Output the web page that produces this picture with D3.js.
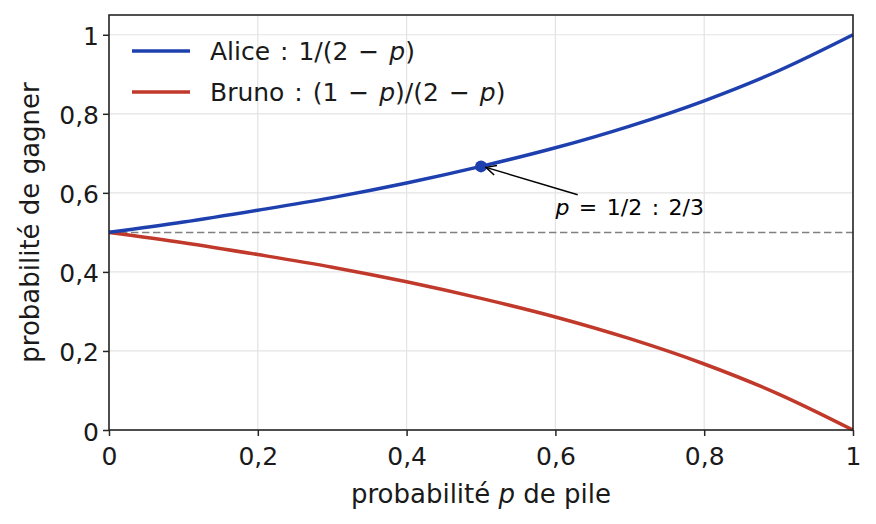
<!DOCTYPE html>
<html lang="fr">
<head>
<meta charset="UTF-8">
<title>Probabilité de gagner</title>
<style>
  body { margin: 0; background: #fff; }
  svg { display: block; font-family: "DejaVu Sans", sans-serif; }
</style>
<script src="https://d3js.org/d3.v7.min.js"></script>
</head>
<body>
<div id="chart"></div>
<script>
// valeurs
const pValues = [0, 0.1, 0.2, 0.3, 0.4, 0.5, 0.6, 0.7, 0.8, 0.9, 1];
const alice = [0.5, 0.526, 0.556, 0.588, 0.625, 0.667, 0.714, 0.769, 0.833, 0.909, 1];
const bruno = [0.5, 0.474, 0.444, 0.412, 0.375, 0.333, 0.286, 0.231, 0.167, 0.091, 0];
const xTicks = [0, 0.2, 0.4, 0.6, 0.8, 1];
const yTicks = [0, 0.2, 0.4, 0.6, 0.8, 1];
const marked = { p: 0.5, v: 0.667 };

const width = 876, height = 524;
const margin = { top: 15, right: 23, bottom: 94, left: 109 };
const innerW = width - margin.left - margin.right;
const innerH = height - margin.top - margin.bottom;
const fs = 25;

const fmt = d => d === 0 || d === 1 ? String(d) : d3.format(".1f")(d).replace(".", ",");

const svg = d3.select("#chart").append("svg")
  .attr("width", width).attr("height", height);
const g = svg.append("g").attr("transform", `translate(${margin.left},${margin.top})`);

const x = d3.scaleLinear().domain([0, 1]).range([0, innerW]);
const y = d3.scaleLinear().domain([0, 1.05]).range([innerH, 0]);

// grille
g.append("g").selectAll("line").data(xTicks).join("line")
  .attr("x1", d => x(d)).attr("x2", d => x(d)).attr("y1", 0).attr("y2", innerH)
  .attr("stroke", "#e3e3e3").attr("stroke-width", 1.2);
g.append("g").selectAll("line").data(yTicks).join("line")
  .attr("y1", d => y(d)).attr("y2", d => y(d)).attr("x1", 0).attr("x2", innerW)
  .attr("stroke", "#e3e3e3").attr("stroke-width", 1.2);

// ligne pointillée à 1/2
g.append("line")
  .attr("x1", 0).attr("x2", innerW).attr("y1", y(0.5)).attr("y2", y(0.5))
  .attr("stroke", "#808080").attr("stroke-width", 1.5).attr("stroke-dasharray", "7.4,3.6");

const line = d3.line().x((d, i) => x(pValues[i])).y(d => y(d)).curve(d3.curveMonotoneX);

g.append("path").datum(bruno).attr("d", line)
  .attr("fill", "none").attr("stroke", "#c0392b").attr("stroke-width", 3.5);
g.append("path").datum(alice).attr("d", line)
  .attr("fill", "none").attr("stroke", "#1e40af").attr("stroke-width", 3.5);

g.append("circle").attr("cx", x(marked.p)).attr("cy", y(marked.v)).attr("r", 6)
  .attr("fill", "#1e40af");

// annotation
svg.append("defs").append("marker")
  .attr("id", "arr").attr("viewBox", "0 0 12 12").attr("refX", 11).attr("refY", 6)
  .attr("markerWidth", 12).attr("markerHeight", 12).attr("markerUnits", "userSpaceOnUse")
  .attr("orient", "auto")
  .append("path").attr("d", "M1,1 L11,6 L1,11").attr("fill", "none")
  .attr("stroke", "#000").attr("stroke-width", 1.5);
g.append("line")
  .attr("x1", x(0.63)).attr("y1", y(0.595))
  .attr("x2", x(marked.p) + 5).attr("y2", y(marked.v) + 1)
  .attr("stroke", "#000").attr("stroke-width", 1.5).attr("marker-end", "url(#arr)");
const ann = g.append("text").attr("x", x(0.6)).attr("y", y(0.545))
  .attr("font-size", 22).attr("word-spacing", 2.5).attr("fill", "#000");
ann.append("tspan").attr("font-style", "italic").text("p");
ann.append("tspan").text(" = 1/2 : 2/3");

// axes
const xAxis = g.append("g").attr("transform", `translate(0,${innerH})`)
  .call(d3.axisBottom(x).tickValues(xTicks).tickFormat(fmt).tickSize(6).tickPadding(11));
const yAxis = g.append("g")
  .call(d3.axisLeft(y).tickValues(yTicks).tickFormat(fmt).tickSize(6).tickPadding(4));
[xAxis, yAxis].forEach(a => {
  a.select(".domain").remove();
  a.selectAll("line").attr("stroke", "#262626").attr("stroke-width", 1.5);
  a.selectAll("text").attr("font-size", fs).attr("fill", "#1a1a1a")
    .attr("font-family", "DejaVu Sans, sans-serif");
});
xAxis.selectAll("text").attr("dy", "0.71em");
yAxis.selectAll("text").attr("dy", "0.4em");
g.append("rect").attr("width", innerW).attr("height", innerH)
  .attr("fill", "none").attr("stroke", "#262626").attr("stroke-width", 1.6);

// titres d'axes
const xl = svg.append("text").attr("x", margin.left + innerW / 2).attr("y", 503)
  .attr("text-anchor", "middle").attr("font-size", 26).attr("fill", "#1a1a1a");
xl.append("tspan").text("probabilité ");
xl.append("tspan").attr("font-style", "italic").text("p");
xl.append("tspan").text(" de pile");
svg.append("text")
  .attr("transform", `translate(39,${margin.top + innerH / 2}) rotate(-90)`)
  .attr("text-anchor", "middle").attr("font-size", 26).attr("fill", "#1a1a1a")
  .text("probabilité de gagner");

// légende
const legend = [
  { color: "#1e40af", parts: [["Alice : 1/(2 − ", ""], ["p", "italic"], [")", ""]] },
  { color: "#c0392b", parts: [["Bruno : (1 − ", ""], ["p", "italic"], [")/(2 − ", ""], ["p", "italic"], [")", ""]] }
];
const lg = g.append("g").attr("transform", "translate(23,36)");
legend.forEach((l, i) => {
  const row = lg.append("g").attr("transform", `translate(0,${i * 41})`);
  row.append("line").attr("x1", 0).attr("x2", 58).attr("y1", 0).attr("y2", 0)
    .attr("stroke", l.color).attr("stroke-width", 3.5);
  const t = row.append("text").attr("x", 78).attr("y", 9).attr("font-size", fs)
    .attr("word-spacing", 2).attr("fill", "#1a1a1a");
  l.parts.forEach(([s, st]) => t.append("tspan").attr("font-style", st || null).text(s));
});
</script>
</body>
</html>
